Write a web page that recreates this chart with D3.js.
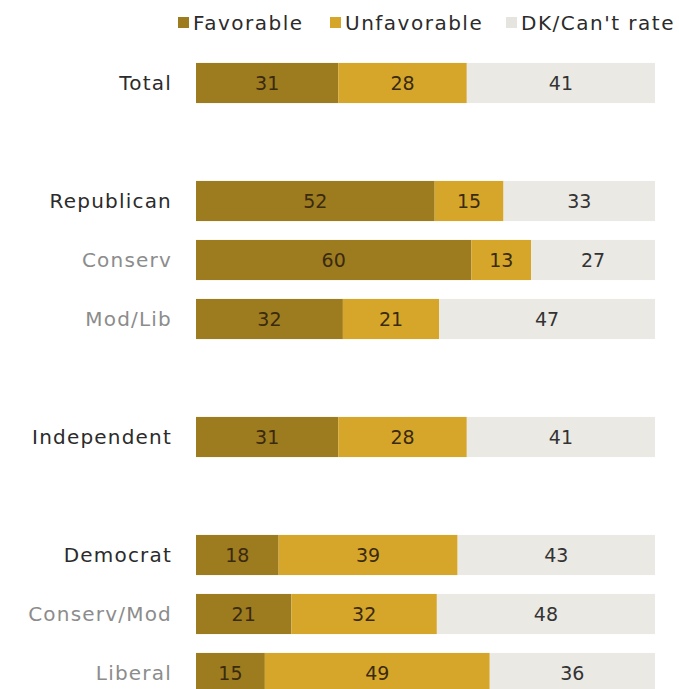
<!DOCTYPE html>
<html>
<head>
<meta charset="utf-8">
<script src="https://cdn.jsdelivr.net/npm/d3@7"></script>
<style>
  html, body { margin: 0; padding: 0; background: #fff; }
  svg { display: block; }
  text { font-family: "DejaVu Sans", sans-serif; }
</style>
</head>
<body>
<svg id="chart" width="679" height="689"></svg>
<script>
// ---- data ----
const slots = ["Total", "_g1", "Republican", "Conserv", "Mod/Lib", "_g2", "Independent", "_g3", "Democrat", "Conserv/Mod", "Liberal"];
const categories = ["Total", "Republican", "Conserv", "Mod/Lib", "Independent", "Democrat", "Conserv/Mod", "Liberal"];
const subgroups = ["Conserv", "Mod/Lib", "Conserv/Mod", "Liberal"];
const favorable   = [31, 52, 60, 32, 31, 18, 21, 15];
const unfavorable = [28, 15, 13, 21, 28, 39, 32, 49];
const dkCantRate  = [41, 33, 27, 47, 41, 43, 48, 36];
const seriesNames = ["Favorable", "Unfavorable", "DK/Can't rate"];
const seriesColors = ["#9d7b1f", "#d6a62a", "#ebe9e3"];
const legendColors = ["#9d7b1f", "#d6a62a", "#e6e4de"];

// ---- build ----
const svg = d3.select("#chart");
const rows = categories.map((c, i) => ({ cat: c, vals: [favorable[i], unfavorable[i], dkCantRate[i]] }));

const x = d3.scaleLinear().domain([0, 100]).range([196, 655]);
const y = d3.scaleBand().domain(slots).range([53.5, 702.5]).paddingInner(0.32).paddingOuter(0.16);

const g = svg.append("g");
rows.forEach(r => {
  const total = d3.sum(r.vals);
  let cum = 0;
  const segs = r.vals.map((v, k) => {
    const s = { start: cum / total * 100, end: (cum + v) / total * 100, v, k };
    cum += v; return s;
  });
  const row = g.append("g");
  row.selectAll("rect").data(segs).join("rect")
    .attr("x", d => x(d.start))
    .attr("y", y(r.cat))
    .attr("width", d => x(d.end) - x(d.start))
    .attr("height", y.bandwidth())
    .attr("fill", d => seriesColors[d.k]);
  row.selectAll("text.val").data(segs).join("text")
    .attr("class", "val")
    .attr("x", d => (x(d.start) + x(d.end)) / 2)
    .attr("y", y(r.cat) + y.bandwidth() / 2)
    .attr("dy", "0.36em")
    .attr("text-anchor", "middle")
    .attr("font-size", 19)
    .attr("fill", d => d.k === 2 ? "#333" : "#3a2a10")
    .text(d => d.v);
  row.append("text")
    .attr("x", 172)
    .attr("y", y(r.cat) + y.bandwidth() / 2)
    .attr("dy", "0.36em")
    .attr("text-anchor", "end")
    .attr("font-size", 20)
    .attr("letter-spacing", "1.2px")
    .attr("fill", subgroups.includes(r.cat) ? "#8c8c8c" : "#2b2b2b")
    .text(r.cat);
});

// ---- legend ----
const legendX = [178, 330, 506];
const lg = svg.append("g");
seriesNames.forEach((n, i) => {
  lg.append("rect").attr("x", legendX[i]).attr("y", 17).attr("width", 11).attr("height", 11).attr("fill", legendColors[i]);
  lg.append("text").attr("x", legendX[i] + 15).attr("y", 23).attr("dy", "0.36em")
    .attr("font-size", 20).attr("letter-spacing", "1.5px").attr("fill", "#2b2b2b").text(n);
});
</script>
</body>
</html>
